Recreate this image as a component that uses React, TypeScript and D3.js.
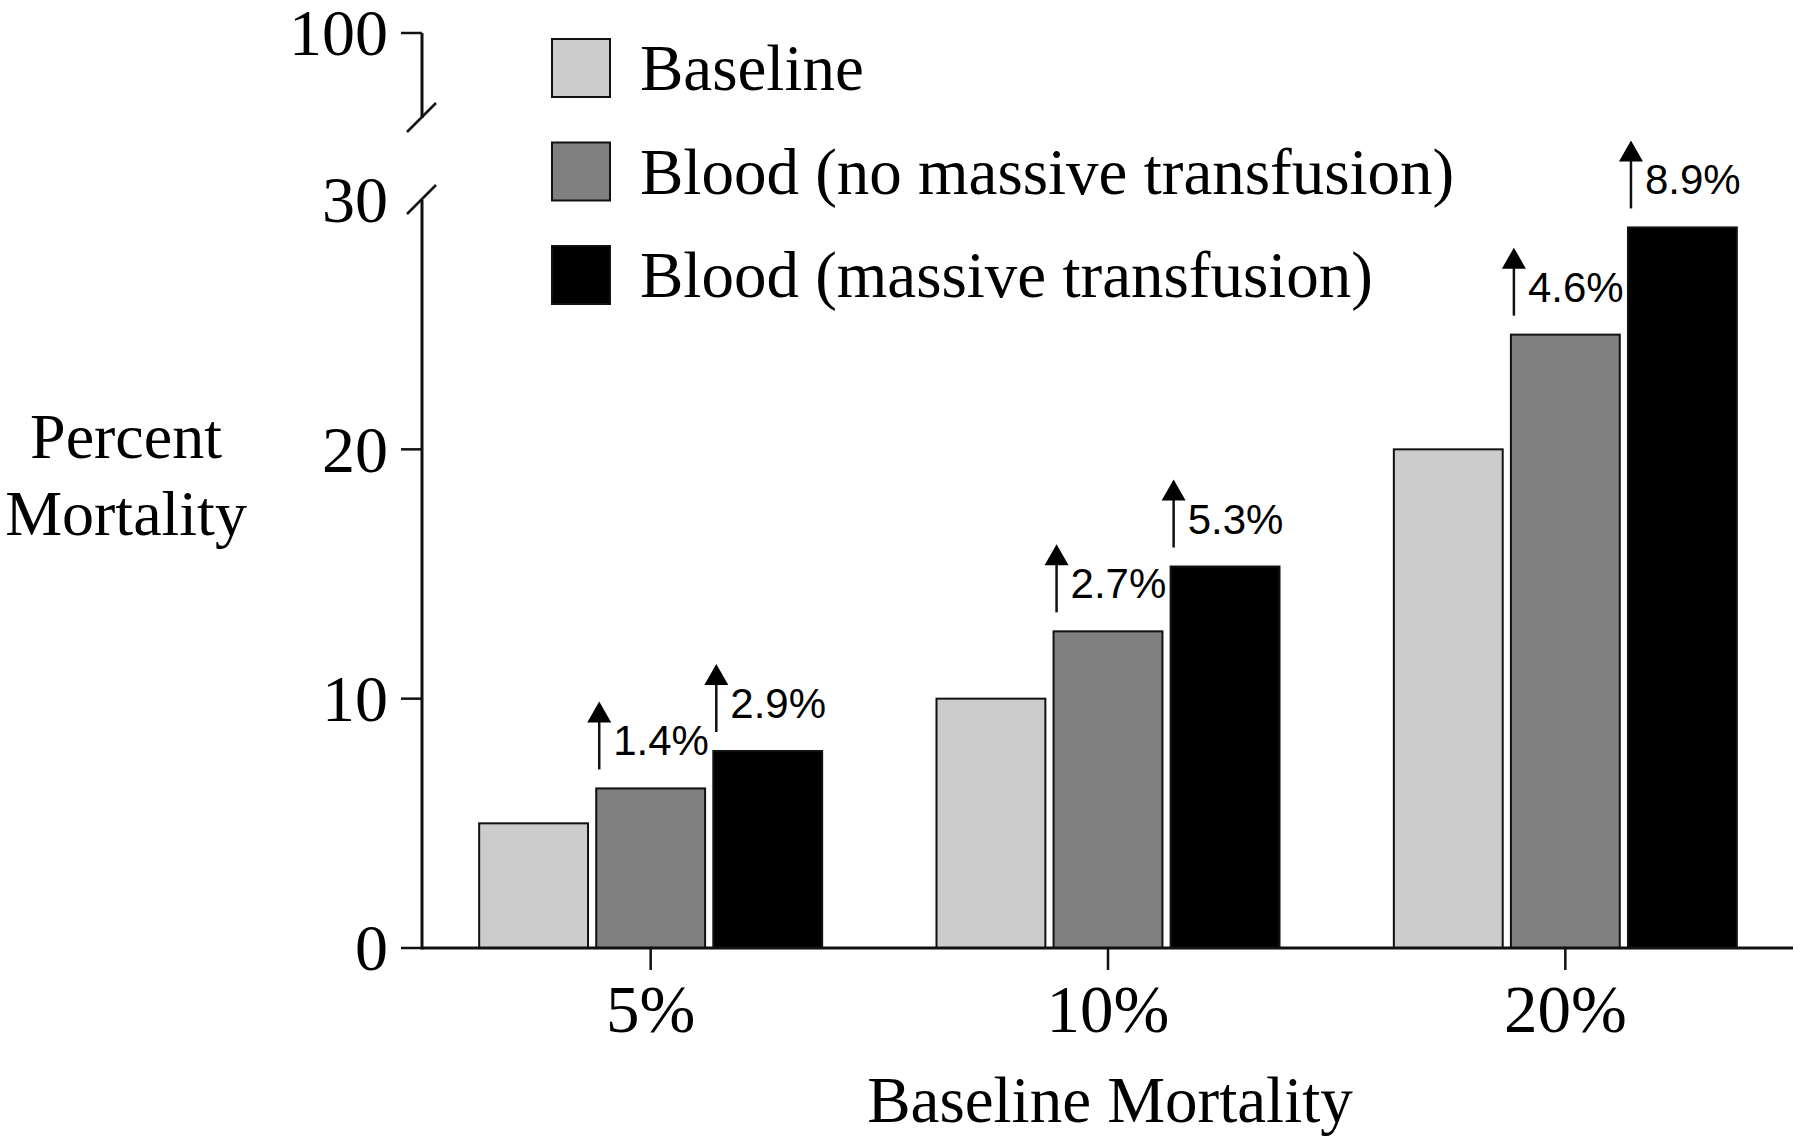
import React, { useRef, useEffect } from "react";
import * as d3 from "d3";

// groups on the x axis
const categories = ["5%", "10%", "20%"];
const seriesNames = [
  "Baseline",
  "Blood (no massive transfusion)",
  "Blood (massive transfusion)",
];
const seriesColors = ["#cccccc", "#808080", "#000000"];

// percent mortality per group, one array per series
const baselineValues = [5, 10, 20];
const noMassiveValues = [6.4, 12.7, 24.6];
const massiveValues = [7.9, 15.3, 28.9];

// increase labels drawn above the blood bars
const noMassiveIncrease = ["1.4%", "2.7%", "4.6%"];
const massiveIncrease = ["2.9%", "5.3%", "8.9%"];

const lowerTicks = [0, 10, 20, 30];
const upperTicks = [100];

const W = 1800;
const H = 1142;
const SERIF = "'Liberation Serif', 'Times New Roman', Times, serif";
const SANS = "'Liberation Sans', Arial, Helvetica, sans-serif";

const App: React.FC = () => {
  const svgRef = useRef<SVGSVGElement | null>(null);

  useEffect(() => {
    document.body.style.margin = "0";
    if (!svgRef.current) return;
    const svg = d3.select(svgRef.current);
    svg.selectAll("*").remove();

    const axisX = 422;
    const x0 = d3
      .scaleBand<string>()
      .domain(categories)
      .range([axisX, 1794])
      .paddingInner(0.25)
      .paddingOuter(0.125);
    const x1 = d3
      .scaleBand<number>()
      .domain([0, 1, 2])
      .range([0, x0.bandwidth()])
      .paddingInner(0.07);

    // lower (main) segment and upper segment of the broken axis
    const y = d3.scaleLinear().domain([0, 30]).range([948, 200]);
    const yTop = d3.scaleLinear().domain([90, 100]).range([118, 33]);

    const series = [baselineValues, noMassiveValues, massiveValues];

    // bars
    series.forEach((vals, si) => {
      svg
        .append("g")
        .selectAll("rect")
        .data(vals)
        .enter()
        .append("rect")
        .attr("x", (_, i) => (x0(categories[i]) as number) + (x1(si) as number))
        .attr("y", (d) => y(d))
        .attr("width", x1.bandwidth())
        .attr("height", (d) => y(0) - y(d))
        .attr("fill", seriesColors[si])
        .attr("stroke", "#111")
        .attr("stroke-width", 2);
    });

    // increase arrows and labels
    const arrows = [
      { vals: noMassiveValues, labels: noMassiveIncrease, si: 1 },
      { vals: massiveValues, labels: massiveIncrease, si: 2 },
    ];
    arrows.forEach(({ vals, labels, si }) => {
      vals.forEach((v, i) => {
        const ax = (x0(categories[i]) as number) + (x1(si) as number) + 3;
        const top = y(v);
        const bottom = top - 19;
        const tip = bottom - 68;
        svg
          .append("line")
          .attr("x1", ax)
          .attr("x2", ax)
          .attr("y1", bottom)
          .attr("y2", tip + 18)
          .attr("stroke", "#111")
          .attr("stroke-width", 2.5);
        svg
          .append("path")
          .attr(
            "d",
            `M${ax},${tip} L${ax + 12},${tip + 21} L${ax - 12},${tip + 21} Z`
          )
          .attr("fill", "#000");
        svg
          .append("text")
          .attr("x", ax + 14)
          .attr("y", top - 33)
          .attr("font-family", SANS)
          .attr("font-size", 42)
          .attr("fill", "#000")
          .text(labels[i]);
      });
    });

    const axisColor = "#111";

    // x axis
    svg
      .append("line")
      .attr("x1", axisX)
      .attr("x2", 1793)
      .attr("y1", y(0))
      .attr("y2", y(0))
      .attr("stroke", axisColor)
      .attr("stroke-width", 3);
    categories.forEach((c) => {
      const cx = (x0(c) as number) + x0.bandwidth() / 2;
      svg
        .append("line")
        .attr("x1", cx)
        .attr("x2", cx)
        .attr("y1", y(0))
        .attr("y2", y(0) + 22)
        .attr("stroke", axisColor)
        .attr("stroke-width", 2.5);
      svg
        .append("text")
        .attr("x", cx)
        .attr("y", y(0) + 84)
        .attr("text-anchor", "middle")
        .attr("font-family", SERIF)
        .attr("font-size", 67)
        .text(c);
    });

    svg
      .append("text")
      .attr("x", 1110)
      .attr("y", 1122)
      .attr("text-anchor", "middle")
      .attr("font-family", SERIF)
      .attr("font-size", 65)
      .text("Baseline Mortality");

    // y axis, lower segment
    svg
      .append("line")
      .attr("x1", axisX)
      .attr("x2", axisX)
      .attr("y1", y(30))
      .attr("y2", y(0) + 1.5)
      .attr("stroke", axisColor)
      .attr("stroke-width", 3);
    // y axis, upper segment
    svg
      .append("line")
      .attr("x1", axisX)
      .attr("x2", axisX)
      .attr("y1", yTop(100))
      .attr("y2", yTop(90))
      .attr("stroke", axisColor)
      .attr("stroke-width", 3);

    // break marks
    [yTop(90), y(30)].forEach((by) => {
      svg
        .append("line")
        .attr("x1", axisX - 15)
        .attr("x2", axisX + 14)
        .attr("y1", by + 14)
        .attr("y2", by - 15)
        .attr("stroke", axisColor)
        .attr("stroke-width", 2.5);
    });

    const drawTick = (ty: number, label: number, mark: boolean) => {
      if (mark) {
        svg
          .append("line")
          .attr("x1", axisX - 21)
          .attr("x2", axisX)
          .attr("y1", ty)
          .attr("y2", ty)
          .attr("stroke", axisColor)
          .attr("stroke-width", 2.5);
      }
      svg
        .append("text")
        .attr("x", axisX - 34)
        .attr("y", ty)
        .attr("dy", "0.34em")
        .attr("text-anchor", "end")
        .attr("font-family", SERIF)
        .attr("font-size", 66)
        .text(label);
    };
    lowerTicks.forEach((t) => drawTick(y(t), t, t !== 30));
    upperTicks.forEach((t) => drawTick(yTop(t), t, true));

    // y axis title
    const yTitle = svg
      .append("text")
      .attr("font-family", SERIF)
      .attr("font-size", 64)
      .attr("text-anchor", "middle");
    yTitle.append("tspan").attr("x", 126).attr("y", 458).text("Percent");
    yTitle.append("tspan").attr("x", 126).attr("y", 535).text("Mortality");

    // legend
    seriesNames.forEach((name, i) => {
      const ly = 39 + i * 103.5;
      svg
        .append("rect")
        .attr("x", 552)
        .attr("y", ly)
        .attr("width", 58)
        .attr("height", 58)
        .attr("fill", seriesColors[i])
        .attr("stroke", "#111")
        .attr("stroke-width", 2);
      svg
        .append("text")
        .attr("x", 640)
        .attr("y", ly + 29 + 22)
        .attr("font-family", SERIF)
        .attr("font-size", 65)
        .text(name);
    });
  }, []);

  return (
    <svg
      ref={svgRef}
      width={W}
      height={H}
      style={{ display: "block", background: "#fff" }}
    ></svg>
  );
};

export default App;
